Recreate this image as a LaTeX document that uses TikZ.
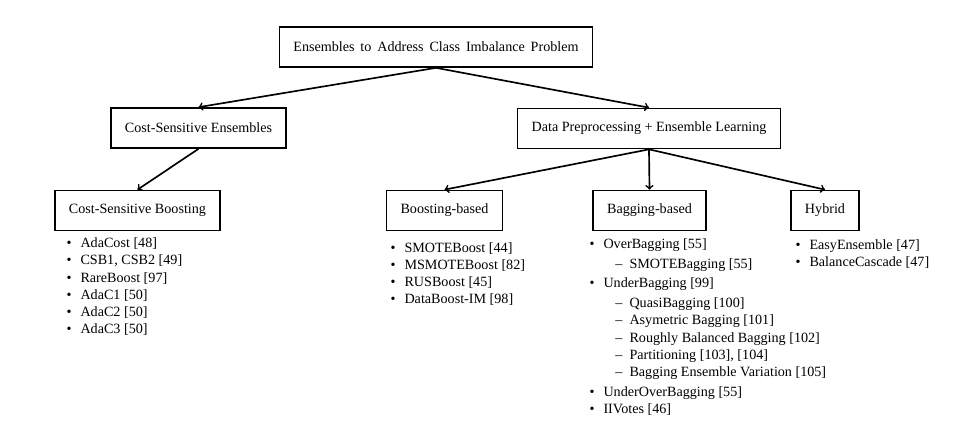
\documentclass[tikz,border=0pt]{standalone}
\usepackage{fontspec}
\setmainfont{Liberation Serif}
\usetikzlibrary{positioning}

\newcommand{\itm}[1]{\makebox[10.5pt][l]{\textbullet}#1}
\newcommand{\subitm}[1]{\hspace{19.3pt}\makebox[10.7pt][l]{--}#1}

\begin{document}
\begin{tikzpicture}[x=0.75pt, y=-0.75pt, line width=1.25pt,
    box/.style={draw, rectangle, inner xsep=10.5pt, minimum height=30pt, font=\fontsize{10.6}{12}\selectfont},
    items/.style={anchor=north west, inner sep=0pt, align=left, font=\fontsize{10.6}{12.9}\selectfont}
]
\useasboundingbox (0,0) rectangle (979,440);

% Boxes of the tree
\node[box] (root) at (436,47) {\spaceskip=4.4pt Ensembles to Address Class Imbalance Problem};
\node[box] (cse) at (198.5,128) {Cost-Sensitive Ensembles};
\node[box] (dpe) at (649,128.5) {Data Preprocessing + Ensemble Learning};
\node[box] (csb) at (137.5,210.5) {Cost-Sensitive Boosting};
\node[box] (boost) at (444.5,210.5) {Boosting-based};
\node[box] (bag) at (649.5,210.5) {Bagging-based};
\node[box] (hyb) at (825,210.5) {Hybrid};

% Arrows
\draw[->] (root.south) -- (cse.north);
\draw[->] (root.south) -- (dpe.north);
\draw[->] (cse.south) -- (csb.north);
\foreach \n in {boost,bag,hyb} {
    \draw[->] (dpe.south) -- (\n.north);
}

% Lists under the leaves
\node[items] (csblist) at (65.7,237) {\itm{AdaCost [48]}\\ \itm{CSB1, CSB2 [49]}\\ \itm{RareBoost [97]}\\
    \itm{AdaC1 [50]}\\ \itm{AdaC2 [50]}\\ \itm{AdaC3 [50]}};
\node[items] (boostlist) at (389.7,241.5) {\itm{SMOTEBoost [44]}\\ \itm{MSMOTEBoost [82]}\\ \itm{RUSBoost [45]}\\
    \itm{DataBoost-IM [98]}};
\node[items] (baglist) at (588.7,237.5) {\itm{OverBagging [55]}\\[2pt]
    \subitm{SMOTEBagging [55]}\\[2pt]
    \itm{UnderBagging [99]}\\[2pt]
    \subitm{QuasiBagging [100]}\\ \subitm{Asymetric Bagging [101]}\\ \subitm{Roughly Balanced Bagging [102]}\\
    \subitm{Partitioning [103], [104]}\\ \subitm{Bagging Ensemble Variation [105]}\\[2pt]
    \itm{UnderOverBagging [55]}\\ \itm{IIVotes [46]}};
\node[items] (hyblist) at (794.7,239) {\itm{EasyEnsemble [47]}\\ \itm{BalanceCascade [47]}};

\end{tikzpicture}
\end{document}
